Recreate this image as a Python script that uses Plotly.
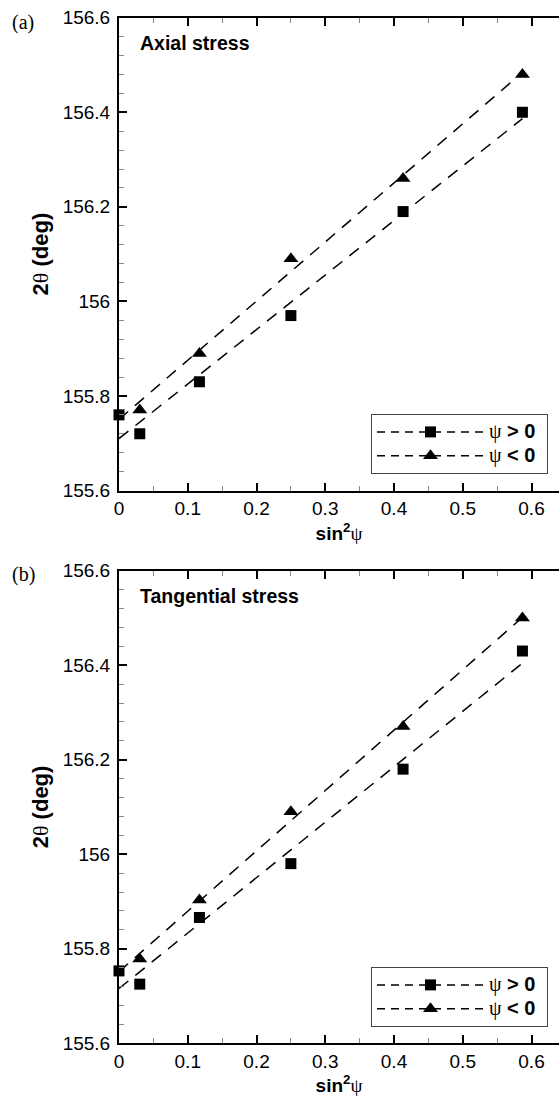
import numpy as np
import plotly.graph_objects as go

# ---------------- data ----------------
sin2psi = [0.0, 0.0302, 0.1170, 0.2500, 0.4132, 0.5868]          # psi = 0..50 deg
sin2psi_neg = [0.0302, 0.1170, 0.2500, 0.4132, 0.5868]            # psi < 0 (psi = 0 shared)

axial_pos = [155.76, 155.72, 155.83, 155.97, 156.19, 156.40]
axial_neg = [155.77, 155.89, 156.09, 156.26, 156.48]

tang_pos = [155.753, 155.725, 155.866, 155.98, 156.18, 156.43]
tang_neg = [155.778, 155.903, 156.09, 156.27, 156.50]

x_ticks = [0, 0.1, 0.2, 0.3, 0.4, 0.5, 0.6]
x_tick_labels = ["0", "0.1", "0.2", "0.3", "0.4", "0.5", "0.6"]
y_ticks = [155.6, 155.8, 156.0, 156.2, 156.4, 156.6]
y_tick_labels = ["155.6", "155.8", "156", "156.2", "156.4", "156.6"]

panel_titles = ["Axial stress", "Tangential stress"]
panel_letters = ["(a)", "(b)"]
series_names = ["<span style='font-size:20px'><span style='font-family:Liberation Serif;font-weight:normal'>ψ</span>"
                "<b> &gt; 0</b>&nbsp;</span>",
                "<span style='font-size:20px'><span style='font-family:Liberation Serif;font-weight:normal'>ψ</span>"
                "<b> &lt; 0</b>&nbsp;</span>"]

SANS = "Liberation Sans, Arial, sans-serif"
SERIF = "Liberation Serif, Times New Roman, serif"

fig = go.Figure()

panels = [(axial_pos, axial_neg), (tang_pos, tang_neg)]
dash = "12px,9px"
for i, (pos, neg) in enumerate(panels):
    xa = "x" if i == 0 else "x2"
    ya = "y" if i == 0 else "y2"
    leg = "legend" if i == 0 else "legend2"
    # linear fits (psi=0 point shared by both series)
    xp = np.array(sin2psi)
    yp = np.array(pos)
    xn = np.array([sin2psi[0]] + sin2psi_neg)
    yn = np.array([pos[0]] + neg)
    cp = np.polyfit(xp, yp, 1)
    cn = np.polyfit(xn, yn, 1)
    xf = np.array([xp.min(), xp.max()])
    for c in (cp, cn):
        fig.add_trace(go.Scatter(x=xf, y=np.polyval(c, xf), mode="lines",
                                 line=dict(color="black", width=1.5, dash=dash),
                                 showlegend=False, hoverinfo="skip", xaxis=xa, yaxis=ya))
    fig.add_trace(go.Scatter(x=sin2psi, y=pos, mode="markers",
                             marker=dict(symbol="square", size=11, color="black"),
                             cliponaxis=False, showlegend=False, xaxis=xa, yaxis=ya))
    fig.add_trace(go.Scatter(x=sin2psi_neg, y=neg, mode="markers",
                             marker=dict(symbol="triangle-up", size=13, color="black"),
                             cliponaxis=False, showlegend=False, xaxis=xa, yaxis=ya))
    # legend entries
    for name, sym, sz in [(series_names[0], "square", 11), (series_names[1], "triangle-up", 13)]:
        fig.add_trace(go.Scatter(x=[None], y=[None], mode="lines+markers", name=name,
                                 line=dict(color="black", width=1.5, dash="8px,6px"),
                                 marker=dict(symbol=sym, size=sz, color="black"),
                                 legend=leg, xaxis=xa, yaxis=ya))

xcommon = dict(range=[0, 0.64], tickmode="array", tickvals=x_ticks, ticktext=x_tick_labels,
               ticks="inside", ticklen=8, tickwidth=2, tickcolor="black",
               showline=True, linewidth=2, linecolor="black", mirror="ticks",
               showgrid=False, zeroline=False, automargin=False,
               tickfont=dict(family=SANS, size=19, color="black"),
               minor=dict(dtick=0.05, tick0=0, ticks="inside", ticklen=5, tickwidth=1,
                          tickcolor="#888", showgrid=False),
               title=dict(text="<b>sin<sup>2</sup></b><span style='font-family:Liberation Serif'>ψ</span>",
                          font=dict(family=SANS, size=19, color="black"), standoff=8))
ycommon = dict(range=[155.6, 156.6], tickmode="array", tickvals=y_ticks, ticktext=y_tick_labels,
               ticks="inside", ticklen=8, tickwidth=2, tickcolor="black",
               showline=True, linewidth=2, linecolor="black", mirror=False,
               showgrid=False, zeroline=False, automargin=False, ticklabelstandoff=3,
               tickfont=dict(family=SANS, size=19, color="black"),
               minor=dict(dtick=0.04, tick0=155.6, ticks="inside", ticklen=5, tickwidth=1,
                          tickcolor="#888", showgrid=False),
               title=dict(text="<b>2</b><span style='font-family:Liberation Serif'>θ</span><b> (deg)</b>",
                          font=dict(family=SANS, size=22, color="black"), standoff=8))

H = 1096
dom_a = [1 - 490.5 / H, 1 - 17.7 / H]
dom_b = [1 - 1043.2 / H, 1 - 570.7 / H]

legcommon = dict(xanchor="right", x=0.975, yanchor="bottom", bordercolor="#444", borderwidth=1,
                 bgcolor="white", font=dict(family=SANS, size=16, color="black"),
                 itemwidth=107, tracegroupgap=0)

fig.update_layout(
    width=559, height=H,
    margin=dict(l=119, r=0, t=0, b=0, autoexpand=False),
    paper_bgcolor="white", plot_bgcolor="white",
    xaxis=dict(xcommon, anchor="y", domain=[0, 1]),
    yaxis=dict(ycommon, anchor="x", domain=dom_a),
    xaxis2=dict(xcommon, anchor="y2", domain=[0, 1]),
    yaxis2=dict(ycommon, anchor="x2", domain=dom_b),
    legend=dict(legcommon, y=1 - 474 / H),
    legend2=dict(legcommon, y=1 - 1027 / H),
    showlegend=True,
)

annots = []
for i, (title, letter) in enumerate(zip(panel_titles, panel_letters)):
    xr = "x domain" if i == 0 else "x2 domain"
    yr = "y domain" if i == 0 else "y2 domain"
    annots.append(dict(text="<b>" + title + "</b>", xref=xr, yref=yr, x=0.043, y=0.947,
                       xanchor="left", yanchor="middle", showarrow=False,
                       font=dict(family=SANS, size=19.5, color="black")))
    ytop = 22 if i == 0 else 574
    annots.append(dict(text=letter, xref="paper", yref="paper", x=(10 - 119) / 440, y=1 - ytop / H,
                       xanchor="left", yanchor="middle", showarrow=False,
                       font=dict(family=SERIF, size=20, color="black")))
fig.update_layout(annotations=annots)

fig.write_html("out.html", config={"displayModeBar": False},
               post_script="document.body.style.margin='0';document.body.style.padding='0';"
                           "document.body.style.overflow='hidden';")
